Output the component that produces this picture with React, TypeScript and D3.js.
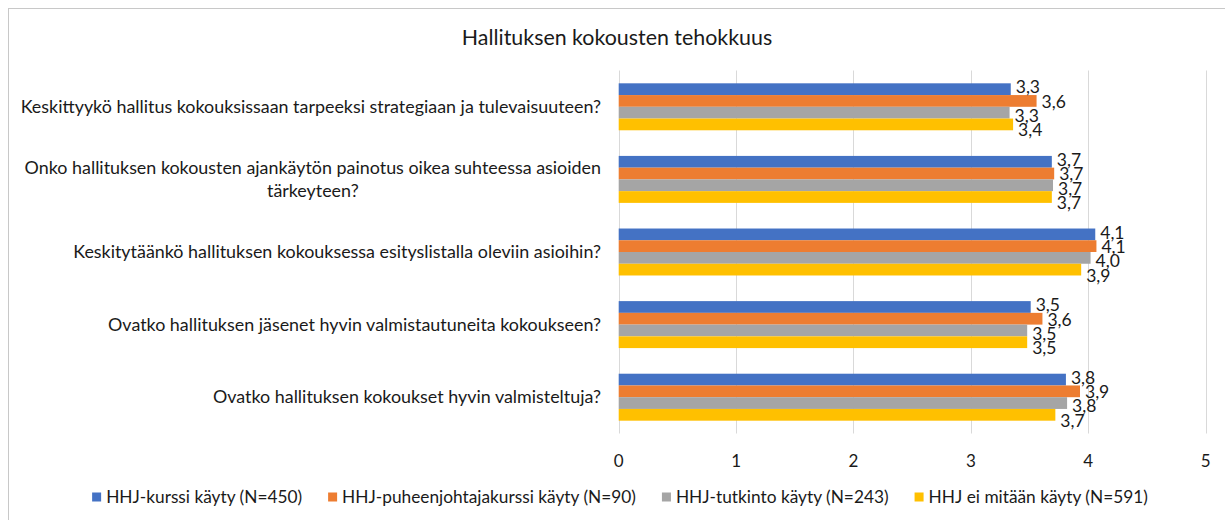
import React, { useEffect, useRef } from "react";
import * as d3 from "d3";

const title = "Hallituksen kokousten tehokkuus";
const categories: string[][] = [
  ["Keskittyykö hallitus kokouksissaan tarpeeksi strategiaan ja tulevaisuuteen?"],
  ["Onko hallituksen kokousten ajankäytön painotus oikea suhteessa asioiden", "tärkeyteen?"],
  ["Keskitytäänkö hallituksen kokouksessa esityslistalla oleviin asioihin?"],
  ["Ovatko hallituksen jäsenet hyvin valmistautuneita kokoukseen?"],
  ["Ovatko hallituksen kokoukset hyvin valmisteltuja?"],
];
const seriesNames = [
  "HHJ-kurssi käyty (N=450)",
  "HHJ-puheenjohtajakurssi käyty (N=90)",
  "HHJ-tutkinto käyty (N=243)",
  "HHJ ei mitään käyty (N=591)",
];
const seriesColors = ["#4472C4", "#ED7D31", "#A5A5A5", "#FFC000"];
const kurssi = [3.34, 3.69, 4.06, 3.51, 3.81];
const puheenjohtaja = [3.56, 3.71, 4.07, 3.61, 3.93];
const tutkinto = [3.33, 3.7, 4.02, 3.48, 3.82];
const eiMitaan = [3.36, 3.69, 3.94, 3.48, 3.72];
const seriesValues = [kurssi, puheenjohtaja, tutkinto, eiMitaan];
const xTicks = [0, 1, 2, 3, 4, 5];

const W = 1225;
const H = 520;
const FONT = "Lato, 'Liberation Sans', sans-serif";
const TEXT = "#1a1a1a";

export default function App() {
  const ref = useRef<SVGSVGElement | null>(null);

  useEffect(() => {
    document.body.style.margin = "0";
    const svg = d3.select(ref.current);
    svg.selectAll("*").remove();

    const left = 618.7;
    const right = 1205.6;
    const top = 70.5;
    const bottom = 433.5;

    const x = d3.scaleLinear().domain([0, 5]).range([left, right]);
    const y = d3
      .scaleBand<number>()
      .domain(d3.range(categories.length))
      .range([top, bottom])
      .paddingInner(0.353)
      .paddingOuter(0.1765);
    const ys = d3
      .scaleBand<number>()
      .domain(d3.range(seriesNames.length))
      .range([0, y.bandwidth()]);

    // border
    svg
      .append("rect")
      .attr("x", 8.5)
      .attr("y", 8.5)
      .attr("width", W + 20)
      .attr("height", H + 20)
      .attr("fill", "#fff")
      .attr("stroke", "#c8c8c8")
      .attr("stroke-width", 1);

    // title
    svg
      .append("text")
      .attr("x", 617)
      .attr("y", 45)
      .attr("text-anchor", "middle")
      .attr("font-family", FONT)
      .attr("font-size", 21.4)
      .attr("fill", TEXT)
      .text(title);

    // gridlines
    svg
      .append("g")
      .selectAll("line")
      .data(xTicks)
      .join("line")
      .attr("x1", (d) => Math.round(x(d)) + 0.5)
      .attr("x2", (d) => Math.round(x(d)) + 0.5)
      .attr("y1", top)
      .attr("y2", bottom)
      .attr("stroke", "#d9d9d9")
      .attr("stroke-width", 1);

    // tick labels
    svg
      .append("g")
      .selectAll("text")
      .data(xTicks)
      .join("text")
      .attr("x", (d) => x(d))
      .attr("y", 461)
      .attr("dy", "0.35em")
      .attr("text-anchor", "middle")
      .attr("font-family", FONT)
      .attr("font-size", 17)
      .attr("fill", TEXT)
      .text((d) => String(d));

    // bars
    seriesValues.forEach((vals, si) => {
      const g = svg.append("g");
      g.selectAll("rect")
        .data(vals)
        .join("rect")
        .attr("x", x(0))
        .attr("y", (_, i) => (y(i) as number) + (ys(si) as number))
        .attr("width", (d) => x(d) - x(0))
        .attr("height", ys.bandwidth())
        .attr("fill", seriesColors[si]);
    });

    // data labels
    const fmt = (v: number) => d3.format(".1f")(v).replace(".", ",");
    seriesValues.forEach((vals, si) => {
      svg
        .append("g")
        .selectAll("text")
        .data(vals)
        .join("text")
        .attr("x", (d) => x(d) + 5)
        .attr(
          "y",
          (_, i) => (y(i) as number) + y.bandwidth() / 2 + 2 + (si - 1.5) * 14.3
        )
        .attr("dy", "0.35em")
        .attr("font-family", FONT)
        .attr("font-size", 17.5)
        .attr("fill", TEXT)
        .text((d) => fmt(d));
    });

    // category labels
    const labelRight = 601;
    categories.forEach((lines, i) => {
      const cy = (y(i) as number) + y.bandwidth() / 2;
      const lh = 23;
      const g = svg.append("g");
      const texts = g
        .selectAll("text")
        .data(lines)
        .join("text")
        .attr("y", (_, li) => cy + (li - (lines.length - 1) / 2) * lh)
        .attr("dy", "0.35em")
        .attr("font-family", FONT)
        .attr("font-size", 17.9)
        .attr("fill", TEXT)
        .text((d) => d);
      let maxW = 0;
      texts.each(function () {
        maxW = Math.max(maxW, (this as SVGTextElement).getComputedTextLength());
      });
      texts.attr("x", labelRight - maxW / 2).attr("text-anchor", "middle");
    });

    // legend
    const lg = svg.append("g");
    const sq = 9;
    const gapSq = 5;
    const gapItem = 26;
    const items = seriesNames.map((name, si) => {
      const t = lg
        .append("text")
        .attr("y", 497)
        .attr("dy", "0.35em")
        .attr("font-family", FONT)
        .attr("font-size", 17.3)
        .attr("fill", TEXT)
        .text(name);
      const w = (t.node() as SVGTextElement).getComputedTextLength();
      const r = lg
        .append("rect")
        .attr("width", sq)
        .attr("height", sq)
        .attr("y", 497 - sq / 2)
        .attr("fill", seriesColors[si]);
      return { t, r, w };
    });
    const total =
      d3.sum(items, (d) => sq + gapSq + d.w) + gapItem * (items.length - 1);
    let cx = 620 - total / 2;
    items.forEach((it) => {
      it.r.attr("x", cx);
      it.t.attr("x", cx + sq + gapSq);
      cx += sq + gapSq + it.w + gapItem;
    });
  }, []);

  return (
    <svg
      ref={ref}
      width={W}
      height={H}
      style={{ display: "block", background: "#fff" }}
    />
  );
}
